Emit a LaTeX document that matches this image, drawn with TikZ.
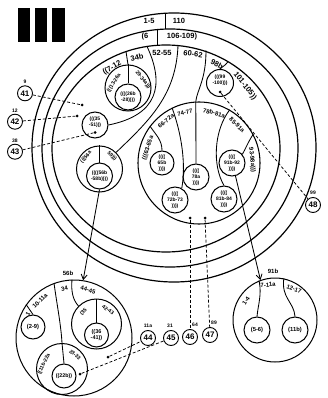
\documentclass[tikz,border=0pt]{standalone}
\usepackage{fontspec}
\setmainfont{Liberation Sans}
\usetikzlibrary{arrows.meta}
\begin{document}
\begin{tikzpicture}[x=1pt,y=-1pt,
 ring/.style={draw,line width=1.2pt},
 sub/.style={circle,draw,line width=1pt,inner sep=0pt,align=center,font=\bfseries\fontsize{5.8}{6.5}\selectfont},
 isub/.style={circle,draw,line width=1pt,inner sep=0pt,align=center,font=\bfseries\fontsize{5}{6.2}\selectfont},
 txt/.style={inner sep=0pt,align=center,font=\bfseries\fontsize{5}{6.2}\selectfont},
 conn/.style={line width=0.85pt},
 dline/.style={line width=0.75pt,dash pattern=on 3pt off 2pt},
 lab/.style={inner sep=0pt,font=\bfseries\fontsize{7.5}{7.5}\selectfont},
 slab/.style={inner sep=0pt,font=\bfseries\fontsize{6}{6}\selectfont},
 xlab/.style={inner sep=0pt,font=\bfseries\fontsize{5.2}{5.2}\selectfont},
 numc/.style={circle,draw,line width=0.9pt,inner sep=0pt,minimum size=15pt,font=\bfseries\fontsize{8}{8}\selectfont},
 numl/.style={inner sep=0pt,font=\bfseries\fontsize{5}{5}\selectfont},
 dotn/.style={circle,fill,inner sep=0pt,minimum size=3pt},
 arr/.style={line width=0.85pt,-{Straight Barb[length=5pt,width=6pt]}},
]
\useasboundingbox (0,0) rectangle (328,398);
% logo
\fill (18,8) rectangle (30,42);
\fill (35,8) rectangle (47,42);
\fill (52,8) rectangle (65,42);
% rings
\coordinate (R1) at (174,147.5);
\coordinate (R2) at (170,148);
\coordinate (R3) at (166,148.5);
\draw[ring] (R1) ellipse [x radius=142pt,y radius=134.5pt];
\draw[ring] (R2) ellipse [x radius=128pt,y radius=119pt];
\draw[ring] (R3) ellipse [x radius=114pt,y radius=103.5pt];
\coordinate (r1a) at (165,13.3); \coordinate (r2a) at (165,29.1);
\draw[conn] (r1a) -- (r2a);
\coordinate (r2b) at (157,29.6); \coordinate (r3b) at (157,45.3);
\draw[conn] (r2b) -- (r3b);
\node[lab] (l15) at (149,20.5) {1-5};
\node[lab] (l110) at (179,20.5) {110};
\node[lab] (l6) at (145,37) {(6};
\node[lab] (l106) at (182,37) {106-109)};
% ring 3 labels
\node[lab,rotate=30] (l712) at (112,68) {((7-12};
\node[lab,rotate=12] (l34b) at (137,57.5) {34b};
\node[lab] (l5255) at (162,52.5) {52-55};
\node[lab,rotate=-8] (l6062) at (193,54) {60-62};
\node[lab,rotate=-28] (l98b) at (217,64) {98b};
\node[lab,rotate=-52] (l101) at (245,86) {101-105))};
\coordinate (t712) at (126,51.6);
\coordinate (t34) at (147,46.4);
\coordinate (t52) at (178,45.6);
\coordinate (t60) at (206,50.5);
\coordinate (t98) at (228,61.6);
% group 13-26a
\node[sub,minimum size=46pt] (c13) at (128,88) {};
\node[isub,minimum size=26pt] (c26) at (128,97) {((((26b\\-28))))};
\draw[conn] (t712) -- (c13.north);
\draw[conn] (c13.north) -- (c26.north);
\node[xlab,rotate=58] (l1326) at (114,83) {(((13-26a};
\node[xlab,rotate=-52] (l2934) at (143,80) {29-34a)))};
% 35-51
\node[isub,minimum size=26pt] (c35) at (95,125) {};
\node[txt] (x35) at (95,122.5) {(((35\\-51)))};
\draw[conn] (t34) .. controls (165,85) and (158,115) .. (c35.east);
% 56a group
\node[sub,minimum size=46pt] (c56) at (99.5,169) {};
\node[isub,minimum size=26pt] (c56i) at (99.5,176) {((((56b\\-58b))))};
\draw[conn] (c56.north) -- (c56i.north);
\node[xlab,rotate=48] (l56a) at (86,157) {(((56a};
\node[xlab,rotate=-45] (l59) at (112,156) {59)))};
\draw[conn] (t52) .. controls (176,95) and (150,120) .. (c56.45);
% 99-100
\node[isub,minimum size=27pt] (c99) at (220,83) {};
\node[txt] (x99) at (220,80.5) {(((99\\-100)))};
\draw[conn] (t98) .. controls (226,65) and (222,67) .. (c99.north);
% 78 group
\node[sub,line width=1.05pt,minimum size=122pt] (c78) at (199,163) {};
\draw[conn] (t60) .. controls (206,80) and (197,90) .. (c78.93);
\node[slab,rotate=72] (l6365) at (148,148) {(((63-65a};
\node[slab,rotate=38] (l6672) at (166,121) {66-72a};
\node[slab,rotate=12] (l7477) at (185,112.5) {74-77};
\node[slab,rotate=-15] (l78b) at (214,113) {78b-81a};
\node[slab,rotate=-45] (l8591) at (237,125) {85-91a};
\node[slab,rotate=-84] (l9398) at (252,160) {93-98a)))};
\node[isub,minimum size=24pt] (c65b) at (162,163) {((((\\65b\\))))};
\node[isub,minimum size=26pt] (c72b) at (175,200) {((((\\72b-73\\))))};
\node[isub,minimum size=26pt] (c78a) at (196,177) {((((\\78a\\))))};
\node[isub,minimum size=26pt] (c81b) at (224,199) {((((\\81b-84\\))))};
\node[isub,minimum size=26pt] (c91b) at (232,163) {((((\\91b-92\\))))};
\draw[conn] (c78.143) .. controls (156,135) and (162,140) .. (c65b.north);
\draw[conn] (c78.116) .. controls (182,135) and (186,165) .. (c72b.60);
\draw[conn] (c78.93) -- (c78a.north);
\draw[conn] (c78.60) .. controls (214,130) and (212,165) .. (c81b.north);
\draw[conn] (c78.28) .. controls (248,142) and (245,150) .. (c91b.40);
% dots
\node[dotn] (d41) at (82,105) {};
\node[dotn] (d42) at (77,116) {};
\node[dotn] (d43) at (95,132.5) {};
\node[dotn] (d48) at (220,92) {};
\node[dotn] (d46) at (190,218) {};
\node[dotn] (d47) at (205,218) {};
% number circles
\node[numc] (n41) at (25,93.3) {41};
\node[numl] (m41) at (25,81.7) {9};
\node[numc] (n42) at (15,121.7) {42};
\node[numl] (m42) at (15,111) {12};
\node[numc] (n43) at (15,151.7) {43};
\node[numl] (m43) at (15,140.5) {38};
\node[numc] (n44) at (148,338) {44};
\node[numl] (m44) at (148,326) {11a};
\node[numc] (n45) at (171,338) {45};
\node[numl] (m45) at (170,326) {31};
\node[numc] (n46) at (190,337) {46};
\node[numl] (m46) at (195,325) {64};
\node[numc] (n47) at (210,335) {47};
\node[numl] (m47) at (214,323) {89};
\node[numc] (n48) at (313,205) {48};
\node[numl] (m48) at (313,193) {99};
\draw[dline] (n41) -- (d41);
\draw[dline] (n42) -- (d42);
\draw[dline] (n43) -- (d43);
\draw[dline] (d48) -- (n48);
\draw[dline] (d46) -- (n46);
\draw[dline] (d47) -- (n47);
% lower left (56b)
\node[sub,minimum size=116pt] (cL) at (74,338) {};
\node[slab] (l56b) at (68,273) {56b};
\draw[arr] (c56i.south) -- (cL.81);
\node[slab,rotate=60] (lL1) at (28,314) {1};
\node[slab,rotate=45] (lL10) at (40,301) {10-11a};
\node[slab,rotate=11] (lL34) at (64.5,288.5) {34};
\node[slab,rotate=-15] (lL44) at (88,290) {44-45};
\node[sub,minimum size=24pt] (c29) at (33,327) {(2-9)};
\node[sub,minimum size=51pt] (c11b) at (62,369) {};
\node[sub,minimum size=24pt,font=\bfseries\fontsize{5.3}{5.3}\selectfont] (c22b) at (64,376) {((22b))};
\node[xlab,rotate=64] (l11b) at (44,364) {((11b-22a};
\node[xlab,rotate=-40] (l2333) at (75,355) {23-33};
\node[sub,minimum size=50pt] (c35s) at (96.5,324) {};
\node[isub,minimum size=24pt,font=\bfseries\fontsize{5.5}{6.8}\selectfont] (c3641) at (96.5,335) {((36\\-41))};
\node[xlab,rotate=45] (l35s) at (83.5,312) {(35};
\node[xlab,rotate=-35] (l4243) at (108,310) {42-43};
\draw[conn] (cL.145) -- (c29.north);
\draw[conn] (cL.110) .. controls (57,305) and (61,325) .. (c11b.north);
\draw[conn] (c11b.north) -- (c22b.north);
\draw[conn] (cL.92) .. controls (71,292) and (73,300) .. (c35s.135);
\draw[conn] (c35s.north) -- (c3641.north);
\node[dotn] (d44) at (108,357) {};
\node[dotn] (d45) at (80,374) {};
\draw[dline] (d44) -- (n44);
\draw[dline] (d45) -- (n45);
% lower right (91b)
\node[sub,minimum size=84pt] (cR) at (275,320) {};
\node[slab] (l91b) at (273,271) {91b};
\draw[arr] (c91b.-75) -- (cR.110);
\node[slab,rotate=57] (lR14) at (246,301) {1-4};
\node[slab,rotate=5] (lR7) at (268,285) {7-11a};
\node[slab,rotate=-20] (lR12) at (294,289) {12-17};
\node[sub,minimum size=26pt] (c56r) at (257,330) {(5-6)};
\node[sub,minimum size=26pt] (c11r) at (295,330) {(11b)};
\draw[conn] (cR.112) .. controls (262,295) and (258,305) .. (c56r.north);
\draw[conn] (cR.78) .. controls (281,298) and (294,302) .. (c11r.north);
\end{tikzpicture}
\end{document}
